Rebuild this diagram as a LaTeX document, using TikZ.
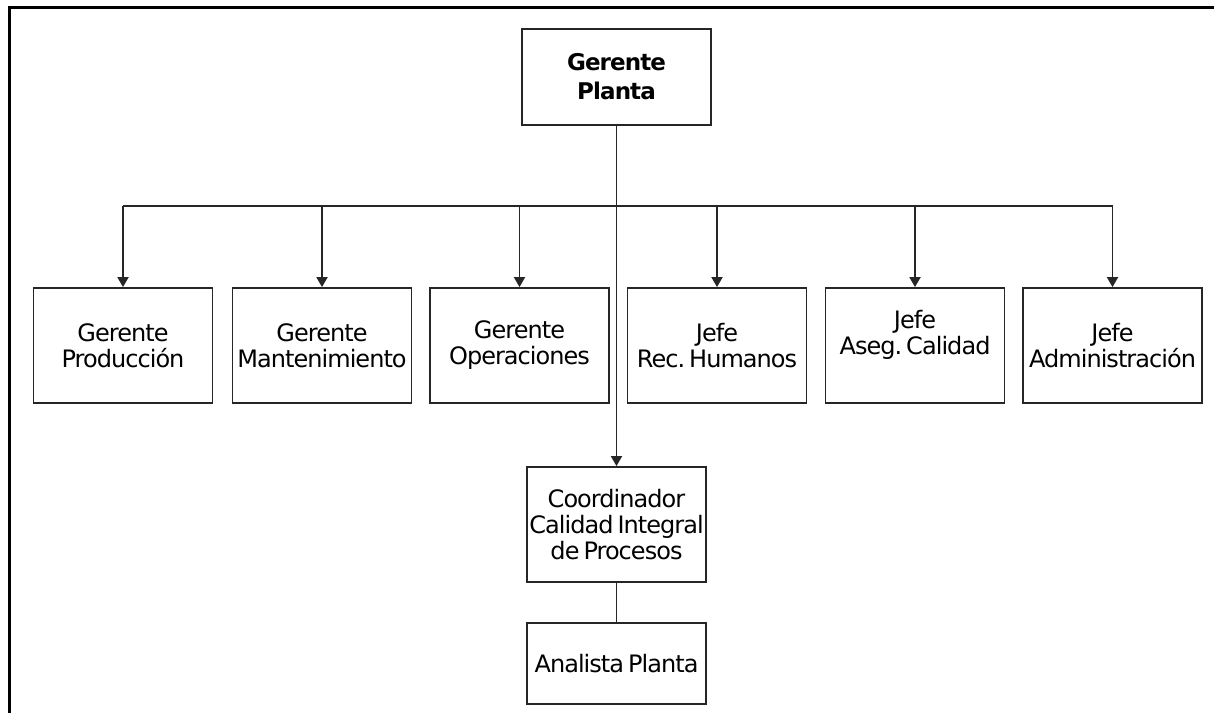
\documentclass[tikz,border=0pt]{standalone}
\usepackage{fontspec}
\setmainfont{DejaVu Sans}[LetterSpace=-4, WordSpace=0.6]
\usetikzlibrary{arrows.meta}
\frenchspacing
\begin{document}
\begin{tikzpicture}[x=1pt,y=1pt,
  box/.style={draw=black!85, line width=1.8pt, fill=white, rectangle,
    minimum width=179pt, minimum height=115pt, inner sep=0pt,
    align=center, font=\fontsize{24}{26}\selectfont},
  link/.style={draw=black!85, line width=1.8pt},
  arr/.style={link, -{Triangle[width=11pt,length=10pt]}}]
\useasboundingbox (0,0) rectangle (1214,-713);
% frame
\draw[line width=3.2pt, line join=miter] (9.5,-713) -- (9.5,-7.5) -- (1214,-7.5);

% top
\node[box, minimum width=189pt, minimum height=96pt,
  font=\fontsize{23}{29}\selectfont\bfseries] (gp) at (616.5,-77) {Gerente\\Planta};

% second row
\node[box] (prod) at (123,-345.5) {Gerente\\Producción};
\node[box] (mant) at (322,-345.5) {Gerente\\Mantenimiento};
\node[box] (oper) at (519.5,-345.5) {Gerente\\Operaciones};
\node[box] (rrhh) at (717,-345.5) {Jefe\\Rec. Humanos};
\node[box] (aseg) at (915,-345.5) {Jefe\\Aseg. Calidad\\\mbox{}};
\node[box] (admi) at (1112.5,-345.5) {Jefe\\Administración};

% lower column
\node[box] (coor) at (616.5,-524.5) {Coordinador\\Calidad Integral\\de Procesos};
\node[box, minimum height=81pt] (anal) at (616.5,-663.5) {Analista Planta};

% bus
\coordinate (busL) at (prod |- 0,-206);
\coordinate (busR) at (admi |- 0,-206);
\draw[link] (busL) -- (busR);
\foreach \n in {prod,mant,oper,rrhh,aseg,admi}
  \draw[arr] (\n |- busL) -- (\n.north);

\draw[arr] (gp.south) -- (coor.north);
\draw[link] (coor.south) -- (anal.north);
\end{tikzpicture}
\end{document}
